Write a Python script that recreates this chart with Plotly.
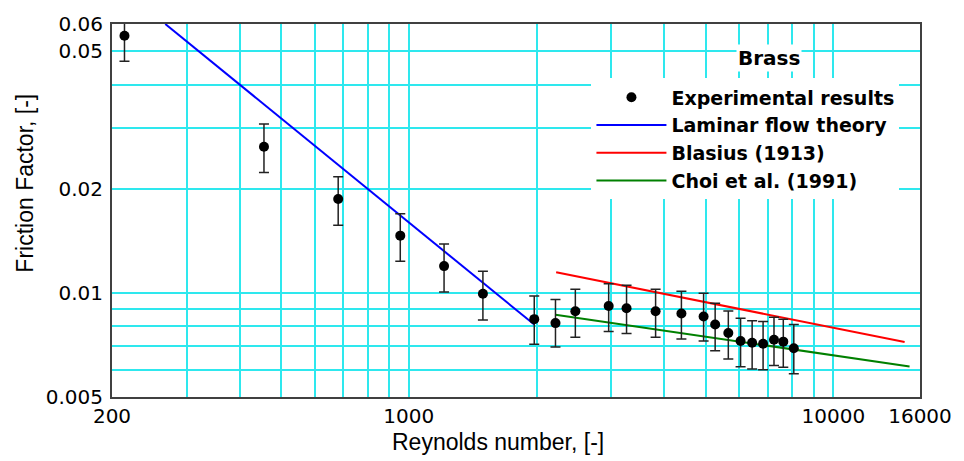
import plotly.graph_objects as go

# ---------------- data ----------------
exp_re = [214, 456, 682, 955, 1211, 1495, 1975, 2216, 2468, 2957, 3258,
          3814, 4387, 4948, 5268, 5658, 6047, 6438, 6832, 7248, 7623, 8070]
exp_f = [0.0555, 0.0265, 0.0187, 0.01465, 0.01196, 0.00995, 0.0084, 0.00818,
         0.00885, 0.00917, 0.00903, 0.00885, 0.00872, 0.00855, 0.0081,
         0.00766, 0.00726, 0.00718, 0.00713, 0.00732, 0.00723, 0.00692]
exp_err_plus = [0.0087, 0.0043, 0.0030, 0.0023, 0.0019, 0.0016, 0.0014, 0.0014,
                0.0014, 0.00146, 0.0015, 0.0014, 0.0014, 0.00143, 0.00123,
                0.00121, 0.00119, 0.00113, 0.00114, 0.00118, 0.00117, 0.00118]
exp_err_minus = [0.0087, 0.0042, 0.0030, 0.0023, 0.0019, 0.0016, 0.0013, 0.0012,
                 0.0014, 0.00143, 0.0014, 0.0014, 0.00136, 0.00129, 0.0013,
                 0.00122, 0.00114, 0.00115, 0.00113, 0.00115, 0.00113, 0.00108]

laminar_re = [267, 1975]
laminar_f = [0.06, 0.0081]

blasius_re = [2224, 14720]
blasius_f = [0.01148, 0.00721]

choi_re = [2216, 15120]
choi_f = [0.00865, 0.00613]

x_tickvals = [200, 300, 400, 500, 600, 700, 800, 900, 1000, 2000, 3000, 4000,
              5000, 6000, 7000, 8000, 9000, 10000, 16000]
x_ticktext = ["200", "", "", "", "", "", "", "", "1000", "", "", "", "", "",
              "", "", "", "10000", "16000"]
y_tickvals = [0.005, 0.006, 0.007, 0.008, 0.009, 0.01, 0.02, 0.03, 0.04, 0.05, 0.06]
y_ticktext = ["0.005", "", "", "", "", "0.01", "0.02", "", "", "0.05", "0.06"]

x_title = "Reynolds number, [-]"
y_title = "Friction Factor, [-]"
panel_label = "Brass"

# ---------------- figure ----------------
GRID = "#2EE8EE"
LEG_FONT = dict(family="DejaVu Sans", size=19, color="black", weight="bold")
LABEL_FONT = dict(family="DejaVu Sans", size=20, color="black", weight="bold")

fig = go.Figure()
fig.add_trace(go.Scatter(x=laminar_re, y=laminar_f, mode="lines",
                         name="Laminar flow theory", legendrank=2,
                         line=dict(color="#0000FF", width=2)))
fig.add_trace(go.Scatter(x=blasius_re, y=blasius_f, mode="lines",
                         name="Blasius (1913)", legendrank=3,
                         line=dict(color="#FF0000", width=2)))
fig.add_trace(go.Scatter(x=choi_re, y=choi_f, mode="lines",
                         name="Choi et al. (1991)", legendrank=4,
                         line=dict(color="#008000", width=2)))
fig.add_trace(go.Scatter(x=exp_re, y=exp_f, mode="markers",
                         name="Experimental results", legendrank=1,
                         marker=dict(color="black", size=10),
                         error_y=dict(type="data", array=exp_err_plus,
                                      arrayminus=exp_err_minus, visible=True,
                                      color="#222222", thickness=1.5, width=5)))

fig.add_annotation(text=panel_label, xref="paper", yref="paper",
                   x=(774 - 112) / 814, y=(397 - 52) / 380,
                   xanchor="center", yanchor="middle", showarrow=False,
                   bgcolor="white", font=LABEL_FONT)
fig.add_annotation(text=x_title, xref="paper", yref="paper",
                   x=(501 - 112) / 814, y=(397 - 443) / 380,
                   xanchor="center", yanchor="middle", showarrow=False,
                   font=dict(family="Liberation Sans", size=23, color="black"))
fig.add_annotation(text=y_title, xref="paper", yref="paper",
                   x=(24 - 112) / 814, y=(397 - 179) / 380, textangle=-90,
                   xanchor="center", yanchor="middle", showarrow=False,
                   font=dict(family="Liberation Sans", size=23, color="black"))

axis_common = dict(type="log", showgrid=True, gridcolor=GRID, gridwidth=1.5,
                   showline=True, linecolor="#404040", linewidth=2, mirror=True,
                   ticks="", zeroline=False,
                   tickfont=dict(family="DejaVu Sans", size=20, color="black"))

fig.update_xaxes(range=[2.30103, 4.20412], tickvals=x_tickvals,
                 ticktext=x_ticktext, **axis_common)
fig.update_yaxes(range=[-2.30103, -1.221849], tickvals=y_tickvals,
                 ticktext=y_ticktext, ticklabelstandoff=3, **axis_common)

fig.update_layout(
    width=964, height=461,
    margin=dict(l=112, r=38, t=17, b=64),
    paper_bgcolor="white", plot_bgcolor="white",
    showlegend=True,
    legend=dict(x=(595 - 112) / 814, y=(397 - 72.5) / 380,
                xanchor="left", yanchor="top", bgcolor="white",
                borderwidth=0, font=LEG_FONT, itemwidth=70,
                tracegroupgap=0),
)

fig.write_html("out.html")
